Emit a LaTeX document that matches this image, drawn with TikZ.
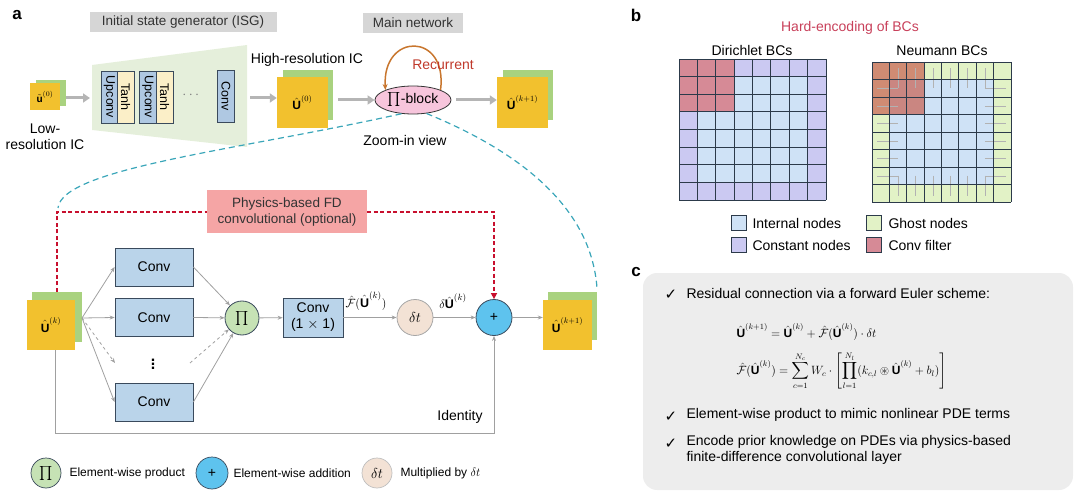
\documentclass[tikz,border=0pt]{standalone}
\usepackage{amsmath,amssymb}
\usepackage{fontspec}
\setmainfont{Liberation Sans}
\newfontfamily\dejavu{DejaVu Sans}
\usetikzlibrary{arrows.meta,shapes.geometric}
\definecolor{hdrgray}{HTML}{D6D6D6}
\definecolor{darktxt}{HTML}{333333}
\definecolor{fy}{HTML}{F2C12E}
\definecolor{fg}{HTML}{A9D27F}
\definecolor{trapc}{HTML}{E5EFDB}
\definecolor{upcf}{HTML}{AFC8E2}
\definecolor{tanhf}{HTML}{FBEFC8}
\definecolor{convf}{HTML}{BAD4EA}
\definecolor{convd}{HTML}{3A4A5C}
\definecolor{pinkb}{HTML}{F7C5DC}
\definecolor{recc}{HTML}{C8762E}
\definecolor{redt}{HTML}{C0392B}
\definecolor{reddash}{HTML}{C8102E}
\definecolor{pinkbox}{HTML}{F5A5A5}
\definecolor{teal}{HTML}{3AA6B9}
\definecolor{plusf}{HTML}{5EC3EE}
\definecolor{pif}{HTML}{C6E2B5}
\definecolor{dtf}{HTML}{F3E2D5}
\definecolor{arrg}{HTML}{B5B5B5}
\definecolor{lineg}{HTML}{A0A0A0}
\definecolor{intc}{HTML}{CFE2F6}
\definecolor{constc}{HTML}{CBC9F2}
\definecolor{ghostc}{HTML}{E2F2C6}
\definecolor{filtc}{HTML}{D68A96}
\definecolor{filtn}{HTML}{C86050}
\definecolor{gridc}{HTML}{2C3A4A}
\definecolor{cbox}{HTML}{EDEDED}
\definecolor{hardc}{HTML}{C8405A}
\newcommand{\Uh}{\hat{\text{\bfseries U}}}
\begin{document}
\begin{tikzpicture}[x=1pt,y=-1pt,font=\fontsize{14}{16}\selectfont,
  hdr/.style={fill=hdrgray,text=darktxt,minimum height=20pt,inner sep=0pt,font=\fontsize{13.5}{15}\selectfont},
  fmy/.style={fill=fy,minimum width=51pt,minimum height=51pt,inner sep=0pt,font=\fontsize{12}{14}\selectfont},
  vblk/.style={draw=convd,line width=0.7pt,rotate=-90,minimum width=52pt,minimum height=17pt,inner sep=0pt,font=\fontsize{12.5}{13}\selectfont},
  convbox/.style={draw=convd,fill=convf,line width=0.8pt,minimum width=78pt,minimum height=38pt,inner sep=0pt},
  circ/.style={circle,draw=convd,line width=0.8pt,minimum size=36pt,inner sep=0pt},
  lcirc/.style={circle,draw=convd,line width=0.7pt,minimum size=30pt,inner sep=0pt},
  legt/.style={anchor=west,font=\fontsize{12}{14}\selectfont},
  garrow/.style={draw=arrg,line width=3pt,-{Triangle[length=7pt,width=9pt]}},
  thinarr/.style={draw=lineg,line width=0.8pt,-{Stealth[length=5pt,width=4pt]}},
  reddsh/.style={draw=reddash,line width=2pt,dash pattern=on 4pt off 2.5pt},
  tealdsh/.style={draw=teal,line width=1.2pt,dash pattern=on 6pt off 4pt},
  gridln/.style={draw=gridc,line width=0.8pt},
  tick/.style={draw=gray!60,line width=0.4pt},
  chk/.style={font=\dejavu\fontsize{15}{16}\selectfont},
  lett/.style={font=\fontsize{17}{17}\selectfont\bfseries}]
\useasboundingbox (0,0) rectangle (1080,500);

% ---------------- panel a, top -----------------
\node[lett] (la) at (17,15) {a};
\node[hdr,minimum width=187pt] (isg) at (183,22.5) {Initial state generator (ISG)};
\node[hdr,minimum width=100pt] (mn) at (413,23) {Main network};

% low-res IC
\fill[fg] (36,80) rectangle (66,106);
\node[fill=fy,minimum width=30pt,minimum height=27pt,inner sep=0pt,font=\fontsize{10}{11}\selectfont] (lr) at (45,97) {$\tilde{\text{\bfseries u}}^{(0)}$};
\node[align=center] (lrt) at (45,137) {Low-\\resolution IC};

% ISG trapezoid
\fill[trapc] (92,65) -- (247,45) -- (247,147) -- (92,130) -- cycle;
\coordinate (trl) at (90,98);
\coordinate (trr) at (250,98);
\node[vblk,fill=upcf] (up1) at (109.5,97) {Upconv};
\node[vblk,fill=tanhf] (th1) at (125.5,97) {Tanh};
\node[vblk,fill=upcf] (up2) at (148,97) {Upconv};
\node[vblk,fill=tanhf] (th2) at (164.5,97) {Tanh};
\node[text=gray] (dots) at (192,95) {$\cdots$};
\node[vblk,fill=upcf] (cv0) at (226,96) {Conv};
\draw[garrow] (lr.east |- trl) ++(6,0) -- (trl);

% high-res IC
\fill[fg] (283,70) rectangle (333,120);
\node[fmy] (u0) at (302.5,102.5) {$\Uh^{(0)}$};
\node (hrt) at (307,60) {High-resolution IC};
\draw[garrow] (trr) -- (u0.west |- trr);

% Pi block
\node[ellipse,draw=darktxt,fill=pinkb,line width=0.8pt,minimum width=76pt,minimum height=28pt,inner sep=0pt] (pb) at (413,100) {$\textstyle\prod$-block};
\coordinate (pbin) at (338,100);
\draw[garrow] (pbin) -- (pb.west);
\draw[recc,line width=1.5pt,-{Stealth[length=6pt,width=5pt]}] (pb.20) .. controls (448,32) and (382,32) .. (pb.160);
\node[text=redt] (rec) at (443,65) {Recurrent};
\node (zv) at (405,140) {Zoom-in view};

% U(k+1) top
\fill[fg] (503,70) rectangle (553,120);
\node[fmy] (u1) at (522.5,102.5) {$\Uh^{(k+1)}$};
\draw[garrow] (pb.east) ++(5,0) -- (u1.west |- pb.east);

% ---------------- panel a, bottom -----------------
\fill[fg] (32,292) rectangle (82,342);
\node[fmy,minimum width=48pt,minimum height=50pt] (uk) at (51,325) {$\Uh^{(k)}$};
\fill[fg] (548,292) rectangle (597,340);
\node[fmy,minimum width=49pt,minimum height=50pt] (uk1) at (567.5,325) {$\Uh^{(k+1)}$};

% teal zoom lines
\draw[tealdsh] (pb.-130) .. controls (240,150) and (62,168) .. (58,208);
\draw[tealdsh] (pb.-45) .. controls (540,160) and (592,220) .. (597,288);

% physics-based FD
\node[fill=pinkbox,minimum width=160pt,minimum height=43pt,align=center,text=darktxt,inner sep=0pt,font=\fontsize{13.5}{16}\selectfont] (fd) at (287,212) {Physics-based FD\\convolutional (optional)};

\node[convbox] (c1) at (154,267) {Conv};
\node[convbox] (c2) at (154,317.5) {Conv};
\node[convbox] (c3) at (154,402) {Conv};
\node[font=\fontsize{16}{16}\selectfont\bfseries] (vd) at (153,361) {$\vdots$};
\coordinate (fan) at (82,318);
\coordinate (dl) at (115,363);
\coordinate (dr) at (190,363);
\node[circ,fill=pif,minimum size=34pt] (pi) at (242,318) {$\textstyle\prod$};
\node[convbox,minimum width=60pt,minimum height=39pt,align=center] (c11) at (313,317.5) {Conv\\(1 $\times$ 1)};
\node[circ,fill=dtf,draw=gray!70] (dt) at (415,317.5) {$\delta t$};
\node[circ,fill=plusf] (plus) at (494,317.5) {+};

\draw[thinarr] (fan) -- (c1.west);
\draw[thinarr] (fan) -- (c2.west);
\draw[thinarr,dashed] (fan) -- (dl);
\draw[thinarr] (fan) -- (c3.west);
\draw[thinarr] (c1.east) -- (pi);
\draw[thinarr] (c2.east) -- (pi);
\draw[thinarr,dashed] (dr) -- (pi);
\draw[thinarr] (c3.east) -- (pi);
\draw[thinarr] (pi) -- (c11);
\draw[thinarr] (c11) -- (dt);
\draw[thinarr] (dt) -- (plus);
\draw[thinarr] (plus) -- (uk1.west |- plus);
\node[font=\fontsize{12.5}{13}\selectfont] (flab) at (366,301) {$\hat{\mathcal F}(\Uh^{(k)})$};
\node[font=\fontsize{12.5}{13}\selectfont] (dlab) at (453,301) {$\delta\Uh^{(k)}$};

% identity
\draw[thinarr] (uk.south) ++(4,0) |- (494,433) -- (plus.south);
\node (idt) at (460,417) {Identity};

% red dashed
\draw[reddsh] (uk.north) ++(6,-8) |- (fd.west);
\draw[reddsh,-{Triangle[length=6pt,width=6pt]}] (fd.east) -| (plus.north);

% legend
\node[lcirc,fill=pif] (lg1) at (46,473) {$\textstyle\prod$};
\node[legt] (lt1) at (66,473) {Element-wise product};
\node[lcirc,fill=plusf,minimum size=32pt] (lg2) at (212,473) {+};
\node[legt] (lt2) at (230,473) {Element-wise addition};
\node[lcirc,fill=dtf,draw=gray!50] (lg3) at (377,473) {$\delta t$};
\node[legt] (lt3) at (397,473) {Multiplied by $\delta t$};

% ---------------- panel b -----------------
\node[lett] (lb) at (636,15) {b};
\node[text=hardc] (hard) at (850,28) {Hard-encoding of BCs};
\node (dir) at (752,50) {Dirichlet BCs};
\node (neu) at (942,51) {Neumann BCs};
% Dirichlet grid
\fill[constc] (679,59) rectangle (826,200);
\fill[intc] (697.375,76.625) rectangle (807.625,182.375);
\fill[filtc] (679,59) rectangle (734.125,111.875);
\foreach \i in {0,...,8} {
  \draw[gridln] ({679+\i*18.375},59) -- ({679+\i*18.375},200);
  \draw[gridln] (679,{59+\i*17.625}) -- (826,{59+\i*17.625});
}
% Neumann grid
\fill[ghostc] (872,62) rectangle (1011,202);
\fill[intc] (889.375,79.5) rectangle (993.625,184.5);
\fill[filtn,fill opacity=0.7] (872,62) rectangle (924.125,114.5);
\foreach \i in {1,...,6} {
  \draw[tick] ({872+(\i+0.5)*17.375},{62+0.35*17.5}) -- ({872+(\i+0.5)*17.375},{62+1.5*17.5});
  \draw[tick] ({872+(\i+0.5)*17.375},{62+6.5*17.5}) -- ({872+(\i+0.5)*17.375},{62+7.65*17.5});
  \draw[tick] ({872+0.3*17.375},{62+(\i+0.5)*17.5}) -- ({872+1.5*17.375},{62+(\i+0.5)*17.5});
  \draw[tick] ({872+6.5*17.375},{62+(\i+0.5)*17.5}) -- ({872+7.7*17.375},{62+(\i+0.5)*17.5});
}
\foreach \i in {0,...,8} {
  \draw[gridln] ({872+\i*17.375},62) -- ({872+\i*17.375},202);
  \draw[gridln] (872,{62+\i*17.5}) -- (1011,{62+\i*17.5});
}
% legend b
\node[draw=gridc,fill=intc,minimum width=15pt,minimum height=15pt,inner sep=0pt] (bl1) at (738.5,223) {};
\node[anchor=west] (bt1) at (749,223) {Internal nodes};
\node[draw=gridc,fill=constc,minimum width=15pt,minimum height=15pt,inner sep=0pt] (bl2) at (738.5,245) {};
\node[anchor=west] (bt2) at (749,245) {Constant nodes};
\node[draw=gridc,fill=ghostc,minimum width=15pt,minimum height=15pt,inner sep=0pt] (bl3) at (873.5,223) {};
\node[anchor=west] (bt3) at (885,223) {Ghost nodes};
\node[draw=gridc,fill=filtc,minimum width=15pt,minimum height=15pt,inner sep=0pt] (bl4) at (873.5,245) {};
\node[anchor=west] (bt4) at (885,245) {Conv filter};

% ---------------- panel c -----------------
\node[lett] (lc) at (636,272) {c};
\fill[cbox,rounded corners=14pt] (643,273) rectangle (1073,490);
\node[chk] (ck1) at (671,295) {✓};
\node[anchor=west] (t1) at (683,293) {Residual connection via a forward Euler scheme:};
\node[anchor=west,font=\fontsize{12}{14}\selectfont] (eq1) at (733,332) {$\Uh^{(k+1)} = \Uh^{(k)} + \hat{\mathcal F}(\Uh^{(k)})\cdot\delta t$};
\node[anchor=west,font=\fontsize{12}{14}\selectfont] (eq2) at (733,371) {$\displaystyle\hat{\mathcal F}(\Uh^{(k)}) = \sum_{c=1}^{N_c} W_c\cdot\left[\prod_{l=1}^{N_l}(k_{c,l}\circledast\Uh^{(k)}+b_l)\right]$};
\node[chk] (ck2) at (671,417) {✓};
\node[anchor=west] (t2) at (683,415) {Element-wise product to mimic nonlinear PDE terms};
\node[chk] (ck3) at (671,444) {✓};
\node[anchor=west,align=left,font=\fontsize{14}{15.5}\selectfont] (t3) at (683,450) {Encode prior knowledge on PDEs via physics-based\\finite-difference convolutional layer};
\end{tikzpicture}
\end{document}
